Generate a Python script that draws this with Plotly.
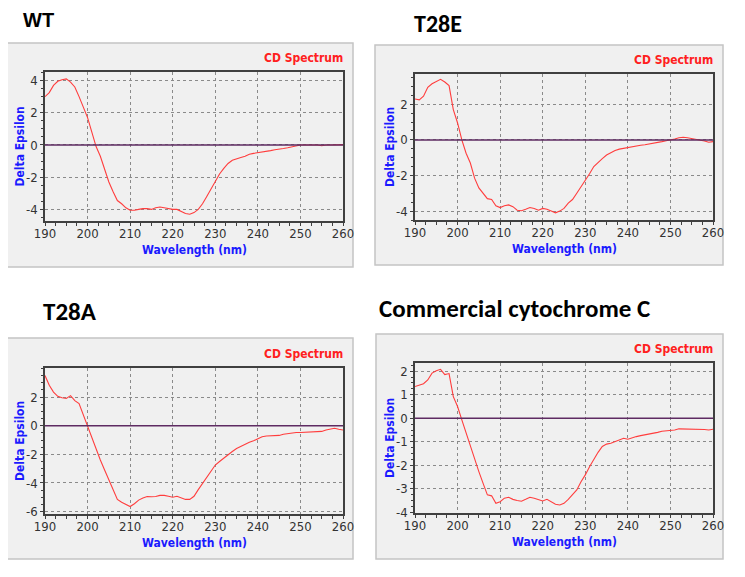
import plotly.graph_objects as go

# ---------------- data ----------------
wavelength = list(range(190, 261))

wt = [3.0, 3.25, 3.7, 3.95, 4.05, 4.1, 3.9, 3.6, 3.0, 2.3,
      1.7, 0.8, -0.1, -0.7, -1.55, -2.3, -2.9, -3.45, -3.65, -3.9,
      -4.05, -4.05, -4.0, -3.95, -3.95, -4.0, -3.9, -3.85, -3.9, -3.95,
      -4.0, -4.0, -4.15, -4.25, -4.3, -4.2, -4.0, -3.65, -3.2, -2.7,
      -2.2, -1.8, -1.45, -1.15, -0.95, -0.85, -0.78, -0.7, -0.58, -0.52,
      -0.48, -0.45, -0.43, -0.35, -0.3, -0.28, -0.22, -0.17, -0.1, -0.05,
      0.0, 0.0, 0.0, 0.0, 0.0, -0.05, 0.0, 0.0, 0.0, 0.0, 0.02]

t28e = [2.3, 2.25, 2.45, 2.95, 3.15, 3.3, 3.4, 3.25, 3.05, 1.7,
        0.95, 0.0, -0.75, -1.3, -2.15, -2.7, -3.0, -3.3, -3.35, -3.7,
        -3.8, -3.7, -3.65, -3.75, -3.95, -3.98, -3.9, -3.8, -3.85, -3.95,
        -3.85, -3.9, -4.0, -4.1, -4.0, -3.85, -3.55, -3.35, -3.0, -2.65,
        -2.25, -1.9, -1.5, -1.25, -1.05, -0.85, -0.72, -0.6, -0.52, -0.47,
        -0.42, -0.38, -0.35, -0.3, -0.27, -0.23, -0.2, -0.18, -0.1, -0.05,
        -0.02, 0.05, 0.12, 0.15, 0.12, 0.08, 0.02, 0.0, -0.06, -0.13, -0.1]

t28a = [3.5, 2.82, 2.35, 2.05, 1.95, 1.9, 2.1, 1.75, 1.55, 0.75,
        0.05, -0.75, -1.65, -2.4, -3.1, -3.8, -4.45, -5.15, -5.35, -5.5,
        -5.65, -5.45, -5.2, -5.05, -4.95, -4.97, -4.95, -4.87, -4.87, -4.93,
        -5.0, -4.93, -5.05, -5.15, -5.15, -4.93, -4.47, -4.05, -3.65, -3.2,
        -2.75, -2.5, -2.25, -2.05, -1.8, -1.6, -1.45, -1.27, -1.15, -1.05,
        -0.9, -0.77, -0.72, -0.7, -0.68, -0.68, -0.6, -0.55, -0.5, -0.48,
        -0.48, -0.46, -0.44, -0.4, -0.4, -0.4, -0.3, -0.25, -0.18, -0.25, -0.3]

commercial = [1.35, 1.42, 1.47, 1.63, 1.92, 2.02, 2.08, 1.86, 1.9, 0.92,
              0.5, -0.07, -0.63, -1.2, -1.77, -2.27, -2.77, -3.26, -3.3, -3.62,
              -3.55, -3.4, -3.36, -3.45, -3.5, -3.53, -3.45, -3.36, -3.4, -3.47,
              -3.52, -3.45, -3.55, -3.66, -3.69, -3.62, -3.45, -3.26, -3.05, -2.7,
              -2.41, -2.06, -1.73, -1.45, -1.2, -1.1, -1.06, -0.99, -0.92, -0.85,
              -0.89, -0.82, -0.78, -0.74, -0.71, -0.68, -0.64, -0.6, -0.55, -0.54,
              -0.54, -0.5, -0.45, -0.45, -0.45, -0.47, -0.45, -0.47, -0.48, -0.5, -0.47]

panel_titles = ["WT", "T28E", "T28A", "Commercial cytochrome C"]

x_tick_vals = [190, 200, 210, 220, 230, 240, 250, 260]
x_tick_text = ["190", "200", "210", "220", "230", "240", "250", "260"]

wt_ytick_vals = [4, 2, 0, -2, -4]
wt_ytick_text = ["4", "2", "0", "-2", "-4"]
t28e_ytick_vals = [2, 0, -2, -4]
t28e_ytick_text = ["2", "0", "-2", "-4"]
t28a_ytick_vals = [2, 0, -2, -4, -6]
t28a_ytick_text = ["2", "0", "-2", "-4", "-6"]
comm_ytick_vals = [2, 1, 0, -1, -2, -3, -4]
comm_ytick_text = ["2", "1", "0", "-1", "-2", "-3", "-4"]

# ---------------- layout helpers ----------------
# The page body keeps the browser's default 8px margin, so the figure is
# made 8px smaller and every pixel position is measured from that offset.
OFF = 8
W, H = 745 - OFF, 577 - OFF


def fx(p):
    return (p - OFF) / W


def fy(p):
    return 1 - (p - OFF) / H


NARROW = "Liberation Sans Narrow, DejaVu Sans Condensed, Arial Narrow, Arial, sans-serif"
CALIBRI = "Calibri, Carlito, Lato, Open Sans, sans-serif"

panels = [
    dict(title=panel_titles[0], y=wt, plot=(45, 343, 72, 221), box=(6, 353, 43, 267),
         yrange=[-4.72, 4.53], ytv=wt_ytick_vals, ytt=wt_ytick_text, yminor=0.5,
         tfont=dict(family="Liberation Sans, Arial, sans-serif", size=20, color="black"),
         tpos=(21, 20)),
    dict(title=panel_titles[1], y=t28e, plot=(415, 713, 74, 220), box=(375, 723, 45, 265),
         yrange=[-4.5, 3.7], ytv=t28e_ytick_vals, ytt=t28e_ytick_text, yminor=0.5,
         tfont=dict(family=CALIBRI, size=24, color="black"), tpos=(412, 23)),
    dict(title=panel_titles[2], y=t28a, plot=(45, 343, 368, 514), box=(6, 353, 338, 559),
         yrange=[-6.17, 4.03], ytv=t28a_ytick_vals, ytt=t28a_ytick_text, yminor=0.5,
         tfont=dict(family=CALIBRI, size=25, color="black"), tpos=(41, 311)),
    dict(title=panel_titles[3], y=commercial, plot=(415, 713, 363, 513), box=(376, 723, 334, 559),
         yrange=[-4.03, 2.35], ytv=comm_ytick_vals, ytt=comm_ytick_text, yminor=0.25,
         tfont=dict(family=CALIBRI, size=25, color="black"), tpos=(377, 308)),
]

fig = go.Figure()
shapes = []
annotations = []
layout_axes = {}

for i, p in enumerate(panels, start=1):
    sfx = "" if i == 1 else str(i)
    xa, ya = "x" + sfx, "y" + sfx
    x0, x1, y0, y1 = p["plot"]
    bx0, bx1, by0, by1 = p["box"]

    # panel box
    shapes.append(dict(type="rect", xref="paper", yref="paper",
                       x0=fx(bx0), x1=fx(bx1), y0=fy(by1), y1=fy(by0),
                       fillcolor="#f0f0f0", line=dict(color="#c4c4c4", width=1.5),
                       layer="below"))
    # zero line (drawn above the curve as in the reference)
    shapes.append(dict(type="line", xref=xa + " domain", yref=ya,
                       x0=0, x1=1, y0=0, y1=0,
                       line=dict(color="#5e2b62", width=1.5), layer="above"))

    fig.add_trace(go.Scatter(x=wavelength, y=p["y"], mode="lines",
                             line=dict(color="#ff3d3d", width=1.1),
                             xaxis=xa, yaxis=ya, showlegend=False,
                             hoverinfo="skip"))

    common = dict(showline=True, mirror=True, linecolor="#404040", linewidth=1.5,
                  showgrid=True, gridcolor="#8a8a8a", griddash="dot", gridwidth=1,
                  zeroline=False, ticks="outside", tickcolor="#404040", ticklen=4,
                  automargin=False,
                  tickfont=dict(family=NARROW, size=13, color="#333333"))

    layout_axes["xaxis" + sfx] = dict(
        common, domain=[fx(x0), fx(x1)], anchor=ya, range=[190, 260],
        tickmode="array", tickvals=x_tick_vals, ticktext=x_tick_text, ticklen=3,
        ticklabelstandoff=-3,
        minor=dict(ticks="outside", dtick=2.5, ticklen=3, tickcolor="#404040", showgrid=False))
    layout_axes["yaxis" + sfx] = dict(
        common, domain=[fy(y1), fy(y0)], anchor=xa, range=p["yrange"],
        tickmode="array", tickvals=p["ytv"], ticktext=p["ytt"], ticklen=3,
        minor=dict(ticks="outside", dtick=p["yminor"], ticklen=2, tickcolor="#404040", showgrid=False))

    # texts
    annotations.append(dict(text=p["title"], xref="paper", yref="paper",
                            x=fx(p["tpos"][0]), y=fy(p["tpos"][1]), xanchor="left", yanchor="middle",
                            showarrow=False, font=dict(p["tfont"], weight="bold")))
    annotations.append(dict(text="<b>CD Spectrum</b>", xref="paper", yref="paper",
                            x=fx(x1 + 2), y=fy(y0 - 14), xanchor="right", yanchor="middle",
                            showarrow=False, font=dict(family=NARROW, size=12, color="#ff2020")))
    annotations.append(dict(text="<b>Wavelength (nm)</b>", xref="paper", yref="paper",
                            x=fx((x0 + x1) / 2), y=fy(y1 + 29), xanchor="center", yanchor="middle",
                            showarrow=False, font=dict(family=NARROW, size=12, color="#1a1aff")))
    annotations.append(dict(text="<b>Delta Epsilon</b>", xref="paper", yref="paper",
                            x=fx(x0 - 25), y=fy((y0 + y1) / 2), xanchor="center", yanchor="middle",
                            textangle=-90, showarrow=False,
                            font=dict(family=NARROW, size=12, color="#1a1aff")))

fig.update_layout(
    width=W, height=H, margin=dict(l=0, r=0, t=0, b=0, autoexpand=False),
    paper_bgcolor="white", plot_bgcolor="#f0f0f0",
    shapes=shapes, annotations=annotations, showlegend=False,
    **layout_axes,
)

fig.write_html("out.html")
